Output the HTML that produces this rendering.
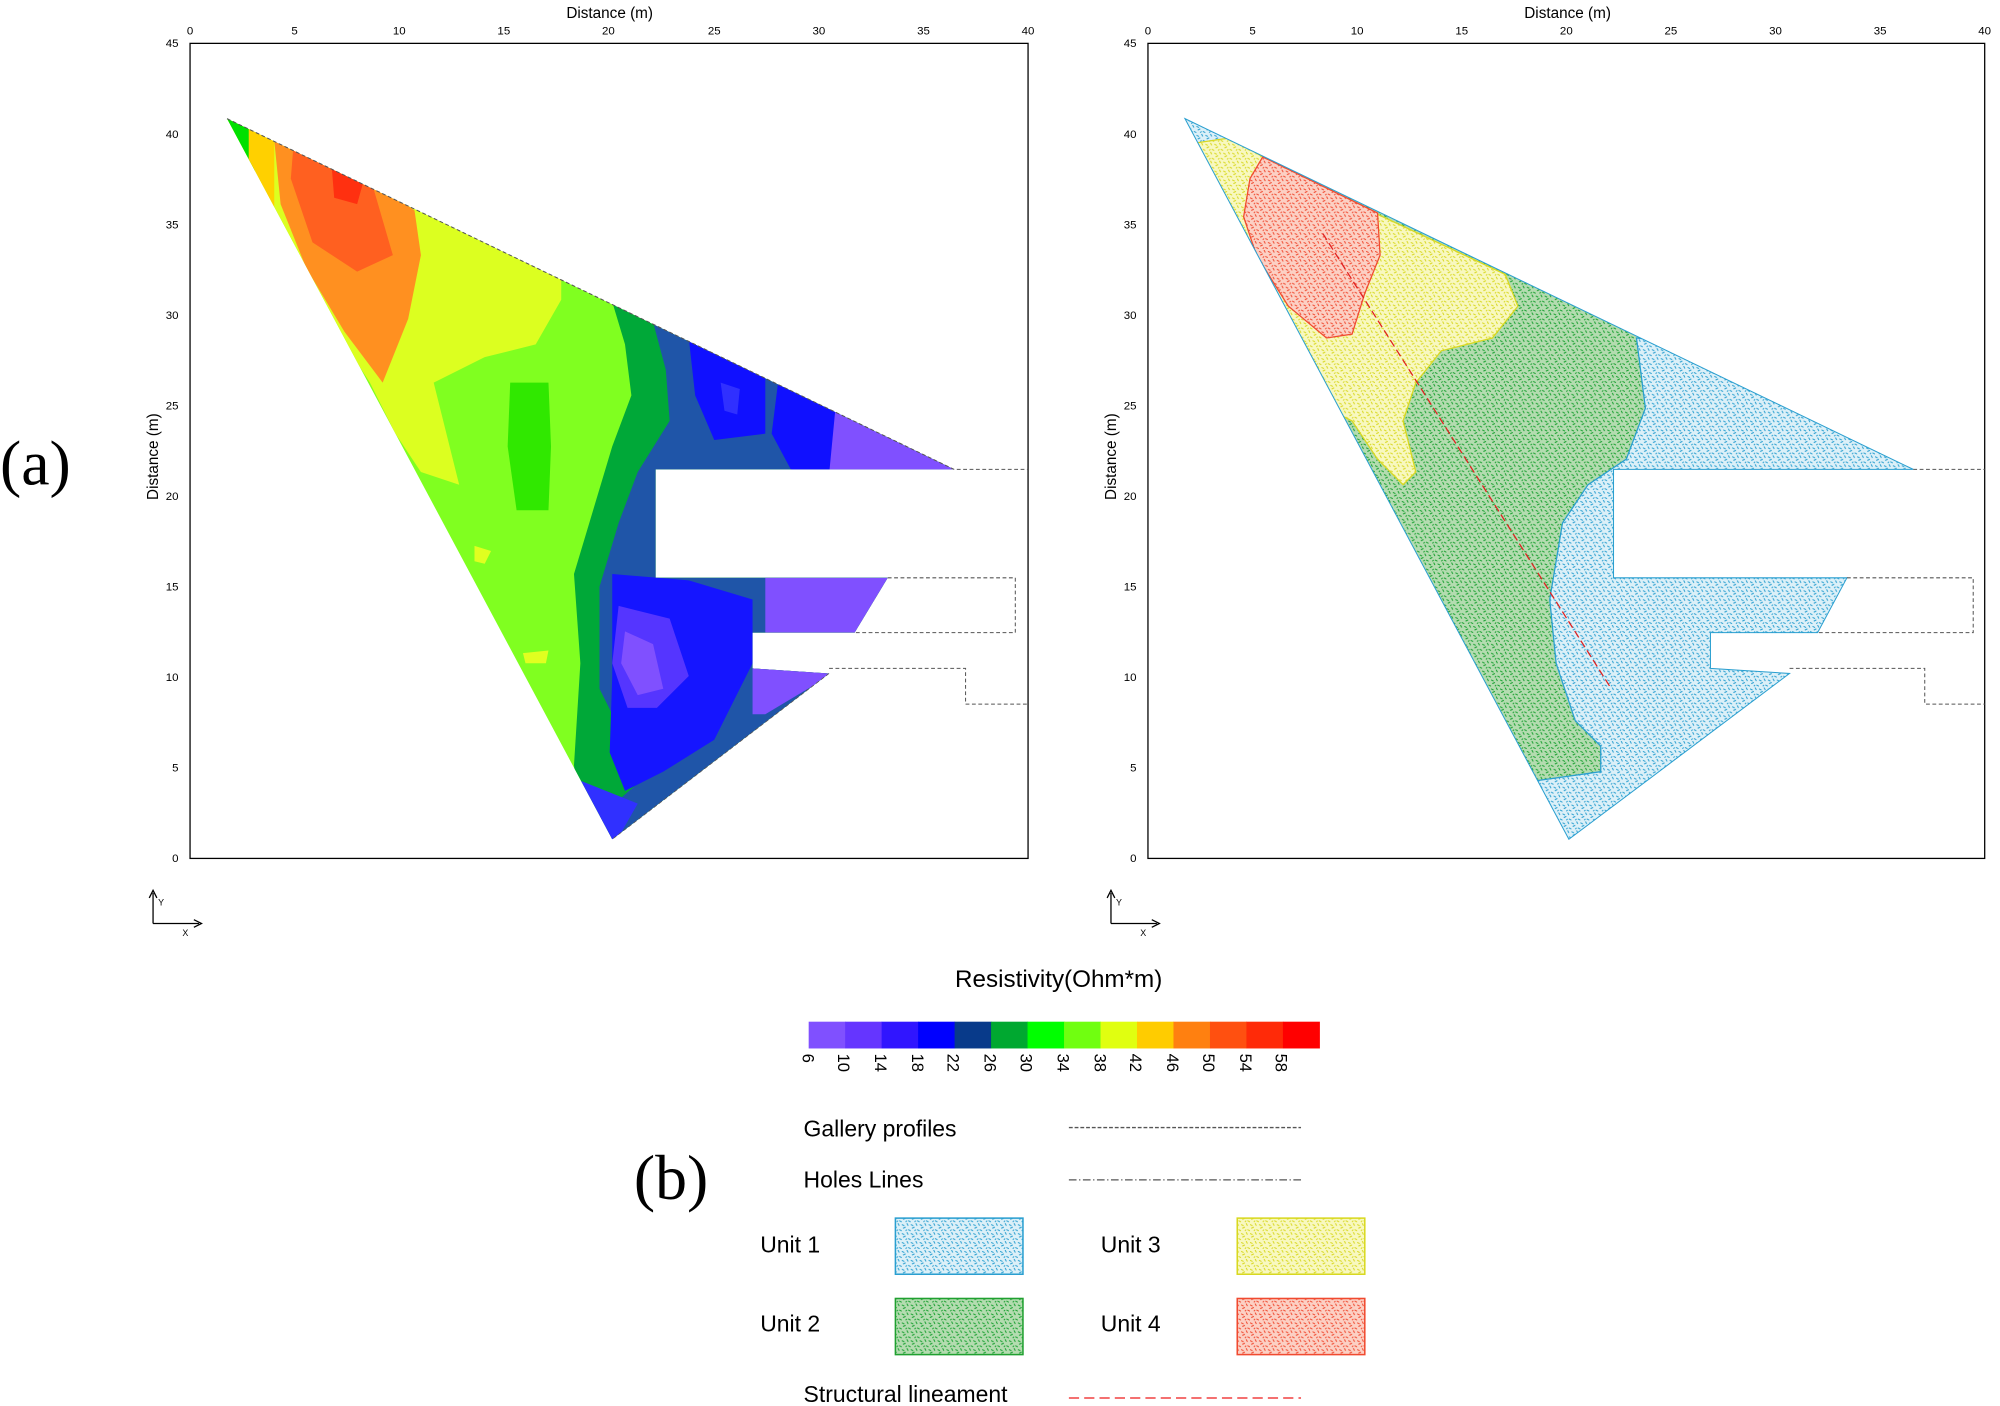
<!DOCTYPE html>
<html><head><meta charset="utf-8"><style>
html,body{margin:0;padding:0;background:#fff;}
svg{display:block;}
text{font-family:"Liberation Sans",sans-serif;}
</style></head><body>
<svg width="2000" height="1406" viewBox="0 0 1568 1102.3" preserveAspectRatio="none" xmlns="http://www.w3.org/2000/svg">
<defs>
<clipPath id="triL"><polygon points="178,93 748,368 514,368 514,453 696,453 670,496 590,496 590,524 650,528 480,658"/></clipPath>
<clipPath id="triR"><polygon points="929,93 1500,368 1265,368 1265,453 1448,453 1425,496 1341,496 1341,524 1403,528 1230,658"/></clipPath>
<pattern id="pB" width="7" height="7" patternUnits="userSpaceOnUse"><rect width="7" height="7" fill="#dcf0f8"/><path d="M0 1l2 1M4 0l1 2M1 4l2-1M5 5l2 1M3 6l1-1" stroke="#2a9fd0" stroke-width="0.8"/></pattern>
<pattern id="pG" width="7" height="7" patternUnits="userSpaceOnUse"><rect width="7" height="7" fill="#b4dcb0"/><path d="M0 1l2 1M4 0l1 2M1 4l2-1M5 5l2 1M3 6l1-1" stroke="#18a030" stroke-width="0.8"/></pattern>
<pattern id="pY" width="7" height="7" patternUnits="userSpaceOnUse"><rect width="7" height="7" fill="#f8f8c0"/><path d="M0 1l2 1M4 0l1 2M1 4l2-1M5 5l2 1M3 6l1-1" stroke="#d8d820" stroke-width="0.8"/></pattern>
<pattern id="pR" width="7" height="7" patternUnits="userSpaceOnUse"><rect width="7" height="7" fill="#fcd0c4"/><path d="M0 1l2 1M4 0l1 2M1 4l2-1M5 5l2 1M3 6l1-1" stroke="#f04a30" stroke-width="0.8"/></pattern>
</defs>
<rect width="1568" height="1103" fill="#fff"/>

<!-- LEFT PLOT -->
<g clip-path="url(#triL)">
<rect x="140" y="80" width="700" height="600" fill="#80ff20"/>
<polygon points="160,80 440,200 440,235 420,270 380,280 340,300 360,380 330,370 310,340 290,300 200,160" fill="#dcff20"/>
<polygon points="140,80 200,100 200,200 140,200" fill="#00e000"/>
<polygon points="195,100 215,110 215,200 195,200" fill="#ffd000"/>
<polygon points="215,110 290,140 325,165 330,200 320,250 300,300 270,260 240,210 220,160" fill="#ff9020"/>
<polygon points="230,115 292,145 308,200 280,213 245,190 228,140" fill="#ff6020"/>
<polygon points="260,130 285,142 280,160 262,155" fill="#ff3010"/>
<polygon points="400,300 430,300 432,350 430,400 405,400 398,350" fill="#30e800"/>
<polygon points="372,428 385,432 380,442 372,440" fill="#e0ff20"/>
<polygon points="410,512 430,510 428,520 412,520" fill="#e0ff20"/>
<polygon points="478,230 490,270 495,310 480,350 465,400 450,450 455,520 450,600 455,640 470,700 900,700 900,200" fill="#00a838"/>
<polygon points="510,245 522,290 525,330 500,370 485,410 470,460 470,540 490,580 505,610 470,640 470,700 900,700 900,200" fill="#1f55a8"/>
<polygon points="540,265 600,290 600,340 560,345 545,310" fill="#1010ff"/>
<polygon points="565,300 580,305 578,325 568,322" fill="#3030ff"/>
<polygon points="610,300 660,325 650,370 620,368 605,340" fill="#1010ff"/>
<polygon points="655,320 760,370 650,372" fill="#8050ff"/>
<polygon points="480,450 540,455 590,470 590,520 560,580 520,605 490,620 478,590 480,530" fill="#1515ff"/>
<polygon points="485,475 525,485 540,530 515,555 492,555 480,520" fill="#5535ff"/>
<polygon points="490,495 512,505 520,540 500,545 487,520" fill="#8050ff"/>
<polygon points="600,453 700,453 680,496 600,496" fill="#8050ff"/>
<polygon points="590,524 660,524 600,560 590,560" fill="#8050ff"/>
<polygon points="450,610 500,630 480,665 440,665" fill="#3030ff"/>
</g>
<rect x="149" y="34" width="657" height="639" fill="none" stroke="#000" stroke-width="1"/>
<polyline points="178,93 748,368 806,368" fill="none" stroke="#555" stroke-width="0.8" stroke-dasharray="3,2"/>
<polyline points="696,453 796,453 796,496 670,496" fill="none" stroke="#555" stroke-width="0.8" stroke-dasharray="3,2"/>
<polyline points="650,524 757,524 757,552 806,552" fill="none" stroke="#555" stroke-width="0.8" stroke-dasharray="3,2"/>
<polyline points="650,528 480,658" fill="none" stroke="#555" stroke-width="0.6" stroke-dasharray="3,2"/>

<!-- RIGHT PLOT -->
<g clip-path="url(#triR)">
<rect x="900" y="80" width="700" height="600" fill="url(#pG)"/>
<polygon points="1283,265 1600,300 1600,700 1230,700 1205,612 1255,605 1255,585 1235,565 1220,520 1215,470 1225,410 1245,380 1275,360 1290,320" fill="url(#pB)" stroke="#2a9fd0" stroke-width="1"/>
<polygon points="910,80 970,100 960,118 935,122" fill="url(#pB)"/>
<polygon points="938,112 965,108 990,123 1080,168 1180,215 1190,240 1170,265 1130,275 1110,300 1100,330 1110,370 1100,380 1080,360 1060,330 1050,325 1000,240" fill="url(#pY)" stroke="#d8d820" stroke-width="1"/>
<polygon points="990,123 1080,167 1082,200 1070,230 1060,262 1040,265 1010,240 985,200 975,170 980,140" fill="url(#pR)" stroke="#f04a30" stroke-width="1"/>
</g>
<polygon points="929,93 1500,368 1265,368 1265,453 1448,453 1425,496 1341,496 1341,524 1403,528 1230,658" fill="none" stroke="#2a9fd0" stroke-width="0.8"/>
<rect x="900" y="34" width="656" height="639" fill="none" stroke="#000" stroke-width="1"/>
<polyline points="1500,368 1556,368" fill="none" stroke="#555" stroke-width="0.8" stroke-dasharray="3,2"/>
<polyline points="1448,453 1547,453 1547,496 1425,496" fill="none" stroke="#555" stroke-width="0.8" stroke-dasharray="3,2"/>
<polyline points="1403,524 1509,524 1509,552 1556,552" fill="none" stroke="#555" stroke-width="0.8" stroke-dasharray="3,2"/>
<line x1="1037" y1="183" x2="1262" y2="538" stroke="#e02020" stroke-width="1" stroke-dasharray="6,3"/>

<!-- ticks and labels -->
<g font-size="9" fill="#000">
<g text-anchor="middle">
<text x="149" y="27">0</text><text x="231" y="27">5</text><text x="313" y="27">10</text><text x="395" y="27">15</text><text x="477" y="27">20</text><text x="560" y="27">25</text><text x="642" y="27">30</text><text x="724" y="27">35</text><text x="806" y="27">40</text>
<text x="900" y="27">0</text><text x="982" y="27">5</text><text x="1064" y="27">10</text><text x="1146" y="27">15</text><text x="1228" y="27">20</text><text x="1310" y="27">25</text><text x="1392" y="27">30</text><text x="1474" y="27">35</text><text x="1556" y="27">40</text>
</g>
<g text-anchor="end">
<text x="140" y="676">0</text><text x="140" y="605">5</text><text x="140" y="534">10</text><text x="140" y="463">15</text><text x="140" y="392">20</text><text x="140" y="321">25</text><text x="140" y="250">30</text><text x="140" y="179">35</text><text x="140" y="108">40</text><text x="140" y="37">45</text>
<text x="891" y="676">0</text><text x="891" y="605">5</text><text x="891" y="534">10</text><text x="891" y="463">15</text><text x="891" y="392">20</text><text x="891" y="321">25</text><text x="891" y="250">30</text><text x="891" y="179">35</text><text x="891" y="108">40</text><text x="891" y="37">45</text>
</g>
</g>
<text x="478" y="14" font-size="12" text-anchor="middle">Distance (m)</text>
<text x="1229" y="14" font-size="12" text-anchor="middle">Distance (m)</text>
<text transform="translate(124,358) rotate(-90)" font-size="12" text-anchor="middle">Distance (m)</text>
<text transform="translate(875,358) rotate(-90)" font-size="12" text-anchor="middle">Distance (m)</text>

<!-- xy arrows -->
<g stroke="#000" stroke-width="1" fill="none">
<path d="M120,724 V700 M117,704 L120,698 L123,704 M120,724 H156 M152,721 L158,724 L152,727"/>
<path d="M871,724 V700 M868,704 L871,698 L874,704 M871,724 H907 M903,721 L909,724 L903,727"/>
</g>
<text x="124" y="710" font-size="7">Y</text><text x="143" y="734" font-size="7">X</text>
<text x="875" y="710" font-size="7">Y</text><text x="894" y="734" font-size="7">X</text>

<text x="0" y="380" font-size="50" style="font-family:'Liberation Serif',serif">(a)</text>
<text x="497" y="940" font-size="50" style="font-family:'Liberation Serif',serif">(b)</text>

<!-- colorbar -->
<text x="830" y="774" font-size="19" text-anchor="middle">Resistivity(Ohm*m)</text>
<g>
<rect x="634" y="801" width="29" height="21" fill="#8050ff"/>
<rect x="662.6" y="801" width="29" height="21" fill="#6535ff"/>
<rect x="691.2" y="801" width="29" height="21" fill="#3015ff"/>
<rect x="719.8" y="801" width="29" height="21" fill="#0000ff"/>
<rect x="748.4" y="801" width="29" height="21" fill="#083a8a"/>
<rect x="777" y="801" width="29" height="21" fill="#00a830"/>
<rect x="805.6" y="801" width="29" height="21" fill="#00ff00"/>
<rect x="834.2" y="801" width="29" height="21" fill="#70ff10"/>
<rect x="862.8" y="801" width="29" height="21" fill="#e0ff10"/>
<rect x="891.4" y="801" width="29" height="21" fill="#ffcc00"/>
<rect x="920" y="801" width="29" height="21" fill="#ff8010"/>
<rect x="948.6" y="801" width="29" height="21" fill="#ff5010"/>
<rect x="977.2" y="801" width="29" height="21" fill="#ff2a08"/>
<rect x="1005.8" y="801" width="29" height="21" fill="#ff0000"/>
</g>
<g font-size="13">
<text transform="translate(629,826) rotate(90)">6</text>
<text transform="translate(657,826) rotate(90)">10</text>
<text transform="translate(686,826) rotate(90)">14</text>
<text transform="translate(715,826) rotate(90)">18</text>
<text transform="translate(743,826) rotate(90)">22</text>
<text transform="translate(772,826) rotate(90)">26</text>
<text transform="translate(800,826) rotate(90)">30</text>
<text transform="translate(829,826) rotate(90)">34</text>
<text transform="translate(858,826) rotate(90)">38</text>
<text transform="translate(886,826) rotate(90)">42</text>
<text transform="translate(915,826) rotate(90)">46</text>
<text transform="translate(943,826) rotate(90)">50</text>
<text transform="translate(972,826) rotate(90)">54</text>
<text transform="translate(1000,826) rotate(90)">58</text>
</g>

<!-- legend -->
<g font-size="18">
<text x="630" y="891">Gallery profiles</text>
<text x="630" y="931">Holes Lines</text>
<text x="596" y="982">Unit 1</text>
<text x="596" y="1044">Unit 2</text>
<text x="863" y="982">Unit 3</text>
<text x="863" y="1044">Unit 4</text>
<text x="630" y="1099">Structural lineament</text>
</g>
<line x1="838" y1="884" x2="1020" y2="884" stroke="#555" stroke-width="1" stroke-dasharray="3,1.5"/>
<line x1="838" y1="925" x2="1020" y2="925" stroke="#555" stroke-width="1" stroke-dasharray="6,2,1,2"/>
<line x1="838" y1="1096" x2="1020" y2="1096" stroke="#f04040" stroke-width="1.2" stroke-dasharray="8,4"/>
<rect x="702" y="955" width="100" height="44" fill="url(#pB)" stroke="#2a9fd0" stroke-width="1.2"/>
<rect x="702" y="1018" width="100" height="44" fill="url(#pG)" stroke="#20a030" stroke-width="1.2"/>
<rect x="970" y="955" width="100" height="44" fill="url(#pY)" stroke="#d8d820" stroke-width="1.2"/>
<rect x="970" y="1018" width="100" height="44" fill="url(#pR)" stroke="#f04a30" stroke-width="1.2"/>
</svg>
</body></html>
